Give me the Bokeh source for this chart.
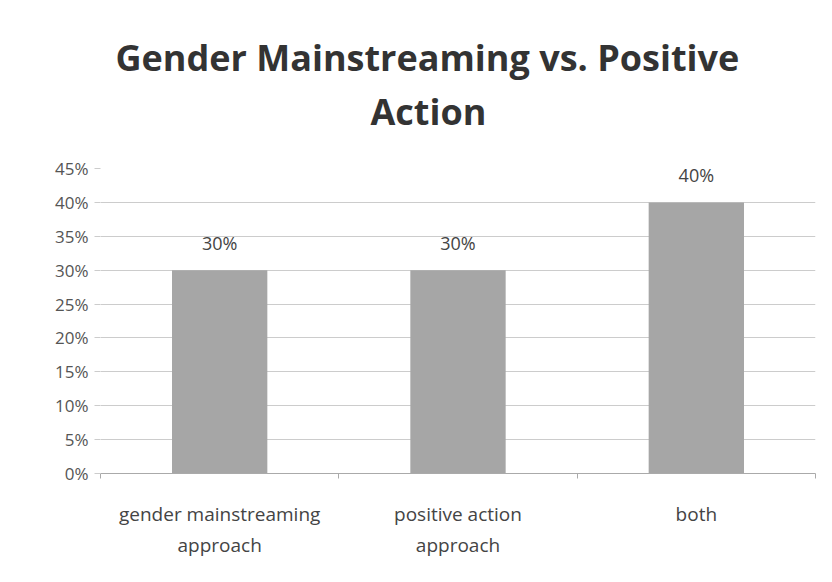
from bokeh.plotting import figure
from bokeh.models import ColumnDataSource, FixedTicker, NumeralTickFormatter, Range1d, Title
from bokeh.core.properties import value
from bokeh.embed import file_html
from bokeh.resources import INLINE

categories = ["gender mainstreaming\napproach", "positive action\napproach", "both"]
shares = [0.30, 0.30, 0.40]
labels = ["30%", "30%", "40%"]
y_ticks = [0, 0.05, 0.10, 0.15, 0.20, 0.25, 0.30, 0.35, 0.40, 0.45]

xs = [i + 0.5 for i in range(len(categories))]
bounds = list(range(len(categories) + 1))
src = ColumnDataSource(dict(x=xs, top=shares, lab=labels))

p = figure(width=830, height=580, output_backend="svg", toolbar_location=None,
           x_range=Range1d(0, 3), y_range=Range1d(0, 0.45),
           min_border_left=100, min_border_right=15, min_border_top=168, min_border_bottom=107)

p.vbar(x="x", top="top", width=0.4, source=src, fill_color="#a6a6a6", line_color=None)
p.text(x="x", y="top", text="lab", source=src, text_align="center", text_baseline="bottom",
       y_offset=-15, text_font=value("Open Sans"), text_font_size="18px", text_color="#444444")

f = "Open Sans"
p.title = None
p.add_layout(Title(text="Action", align="left", text_font=f, text_font_size="36px",
                   text_color="#333333", text_font_style="bold", offset=270, standoff=66), "above")
p.add_layout(Title(text="Gender Mainstreaming vs. Positive", align="left", text_font=f,
                   text_font_size="36px", text_color="#333333", text_font_style="bold",
                   offset=15, standoff=-60), "above")

p.xaxis.ticker = FixedTicker(ticks=xs, minor_ticks=bounds)
p.xaxis.major_label_overrides = {x: c for x, c in zip(xs, categories)}
p.xaxis.major_label_text_font = "Open Sans"
p.xaxis.major_label_text_font_size = "19px"
p.xaxis.major_label_text_color = "#444444"
p.xaxis.major_tick_line_color = None
p.xaxis.minor_tick_line_color = "#aaaaaa"
p.xaxis.minor_tick_out = 5
p.xaxis.minor_tick_in = 0
p.xaxis.axis_line_color = "#aaaaaa"
p.xaxis.major_label_standoff = 21

p.yaxis.ticker = FixedTicker(ticks=y_ticks)
p.yaxis.formatter = NumeralTickFormatter(format="0%")
p.yaxis.major_label_text_font = "Open Sans"
p.yaxis.major_label_text_font_size = "17px"
p.yaxis.major_label_text_color = "#555555"
p.yaxis.axis_line_color = None
p.yaxis.major_tick_line_color = "#cccccc"
p.yaxis.major_tick_out = 6
p.yaxis.major_tick_in = 0
p.yaxis.minor_tick_line_color = None
p.yaxis.major_label_standoff = 6

p.xgrid.grid_line_color = None
p.ygrid.grid_line_color = "#cccccc"
p.outline_line_color = None
p.border_fill_color = "white"

open("out.html", "w").write(file_html(p, INLINE))
